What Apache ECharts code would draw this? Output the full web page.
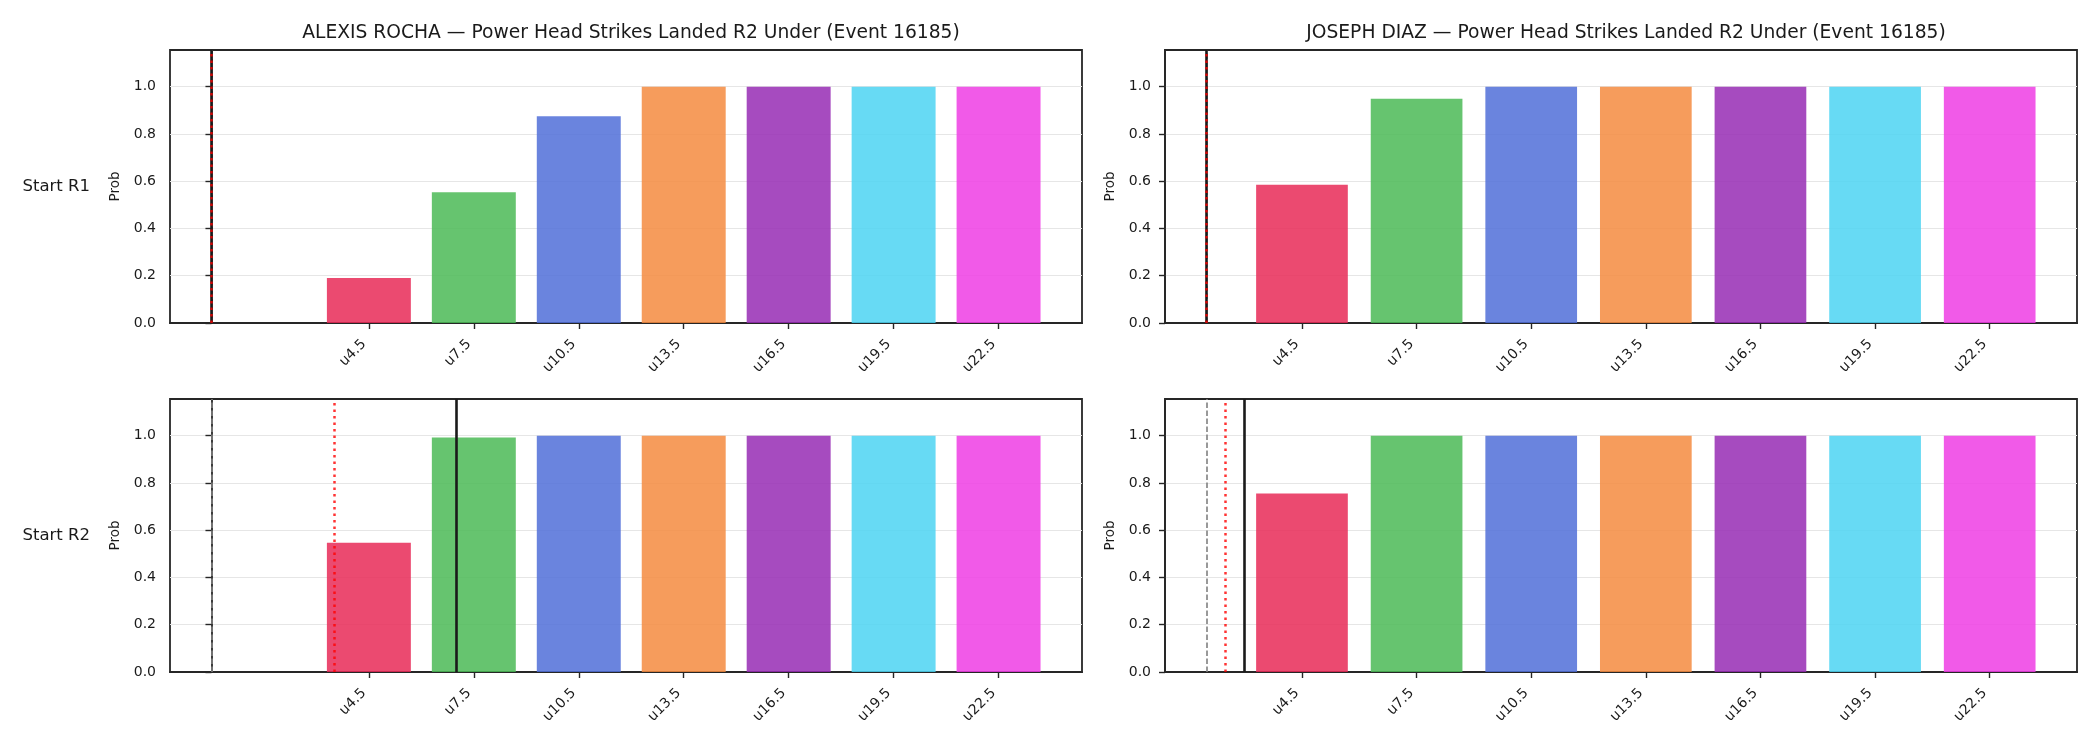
<!DOCTYPE html>
<html>
<head>
<meta charset="utf-8">
<script src="https://cdn.jsdelivr.net/npm/echarts@6/dist/echarts.min.js"></script>
<style>
html,body{margin:0;padding:0;background:#fff;}
#chart{width:2100px;height:750px;}
</style>
</head>
<body>
<div id="chart"></div>
<script>
// ---- data ----
const categories = ['u4.5', 'u7.5', 'u10.5', 'u13.5', 'u16.5', 'u19.5', 'u22.5'];
const barColors = ['#E82A57', '#4BBA56', '#506FD8', '#F58B40', '#972CB4', '#4CD3F2', '#EE3DE4'];
const yTicks = [0, 0.2, 0.4, 0.6, 0.8, 1.0];
const rowLabels = ['Start R1', 'Start R2'];
const fighters = ['ALEXIS ROCHA', 'JOSEPH DIAZ'];
const marketTitle = 'Power Head Strikes Landed R2 Under (Event 16185)';

const rochaR1 = [0.19, 0.553, 0.875, 1.0, 1.0, 1.0, 1.0];
const diazR1  = [0.585, 0.949, 1.0, 1.0, 1.0, 1.0, 1.0];
const rochaR2 = [0.547, 0.992, 1.0, 1.0, 1.0, 1.0, 1.0];
const diazR2  = [0.755, 1.0, 1.0, 1.0, 1.0, 1.0, 1.0];

// reference lines: [grey dashed, black solid, red dotted]
const rochaR1Lines = [0, 0, 0];
const diazR1Lines  = [2, 2, 2];
const rochaR2Lines = [0, 7, 3.5];
const diazR2Lines  = [2, 3, 2.5];

// ---- build ----
const positions = categories.map(c => parseFloat(c.slice(1)));
const barW = 2.4;
const panels = [
  {vals: rochaR1, lines: rochaR1Lines, col: 0, row: 0},
  {vals: diazR1,  lines: diazR1Lines,  col: 1, row: 0},
  {vals: rochaR2, lines: rochaR2Lines, col: 0, row: 1},
  {vals: diazR2,  lines: diazR2Lines,  col: 1, row: 1}
];
const gridLeft = [170, 1165], gridTop = [50, 399], gridW = 912, gridH = 273;
const textColor = '#1a1a1a', spine = '#262626';
const font = 'DejaVu Sans';

const grids = [], xAxes = [], yAxes = [], series = [];
panels.forEach((p, i) => {
  grids.push({left: gridLeft[p.col], top: gridTop[p.row], width: gridW, height: gridH,
    show: true, borderColor: spine, borderWidth: 1.8, backgroundColor: 'transparent', containLabel: false});
  const lo = Math.min(...p.lines, positions[0] - barW / 2);
  const hi = Math.max(...p.lines, positions[positions.length - 1] + barW / 2);
  const m = 0.05 * (hi - lo);
  xAxes.push({type: 'value', gridIndex: i, min: lo - m, max: hi + m,
    axisLine: {show: true, lineStyle: {color: spine, width: 1.8}},
    axisTick: {show: true, customValues: positions, length: 6, lineStyle: {color: spine, width: 1.4}},
    axisLabel: {show: true, customValues: positions, rotate: 45, margin: 14, padding: [0, 7, 0, 0],
      fontFamily: font, fontSize: 14, color: textColor,
      formatter: v => categories[positions.indexOf(v)] || ''},
    splitLine: {show: false}});
  yAxes.push({type: 'value', gridIndex: i, min: 0, max: 1.155, interval: 0.2,
    name: 'Prob', nameLocation: 'middle', nameGap: 48, nameRotate: 90,
    nameTextStyle: {fontFamily: font, fontSize: 13.5, color: textColor},
    axisLine: {show: true, lineStyle: {color: spine, width: 1.8}},
    axisTick: {show: true, customValues: yTicks, length: 6, lineStyle: {color: spine, width: 1.4}},
    axisLabel: {show: true, customValues: yTicks, margin: 14, fontFamily: font, fontSize: 14, color: textColor,
      formatter: v => v.toFixed(1)},
    splitLine: {show: true, lineStyle: {color: '#e6e6e6', width: 1}}});
  series.push({
    type: 'custom', xAxisIndex: i, yAxisIndex: i, animation: false,
    data: p.vals.map((v, k) => [positions[k], v, k]),
    encode: {x: 0, y: 1},
    renderItem: (params, api) => {
      const x = api.value(0), y = api.value(1), k = api.value(2);
      const a = api.coord([x - barW / 2, y]);
      const b = api.coord([x + barW / 2, 0]);
      return {type: 'rect', shape: {x: a[0], y: a[1], width: b[0] - a[0], height: b[1] - a[1]},
        style: {fill: barColors[k], opacity: 0.85}};
    },
    markLine: {
      silent: true, symbol: ['none', 'none'], animation: false, z: 10,
      label: {show: false},
      data: [
        {xAxis: p.lines[0], lineStyle: {color: '#808080', type: [5.5, 2.5], width: 1.6}},
        {xAxis: p.lines[1], lineStyle: {color: '#1a1a1a', type: 'solid', width: 2.6}},
        {xAxis: p.lines[2], lineStyle: {color: 'rgba(255,0,0,0.8)', type: [2.5, 4], width: 2.5}}
      ]
    }
  });
});

const titles = fighters.map((f, c) => ({
  text: f + ' \u2014 ' + marketTitle,
  left: gridLeft[c] + gridW / 2, top: 19, textAlign: 'center',
  textStyle: {fontFamily: font, fontSize: 18.7, fontWeight: 'normal', color: textColor}
}));

const graphics = rowLabels.map((t, r) => ({
  type: 'text', x: 90, y: gridTop[r] + gridH / 2,
  style: {text: t, fontFamily: font, fontSize: 16.5, fill: textColor, align: 'right', verticalAlign: 'middle'}
}));

const chart = echarts.init(document.getElementById('chart'), null, {renderer: 'canvas'});
chart.setOption({
  backgroundColor: '#ffffff',
  animation: false,
  title: titles,
  grid: grids,
  xAxis: xAxes,
  yAxis: yAxes,
  series: series,
  graphic: graphics
});
</script>
</body>
</html>
